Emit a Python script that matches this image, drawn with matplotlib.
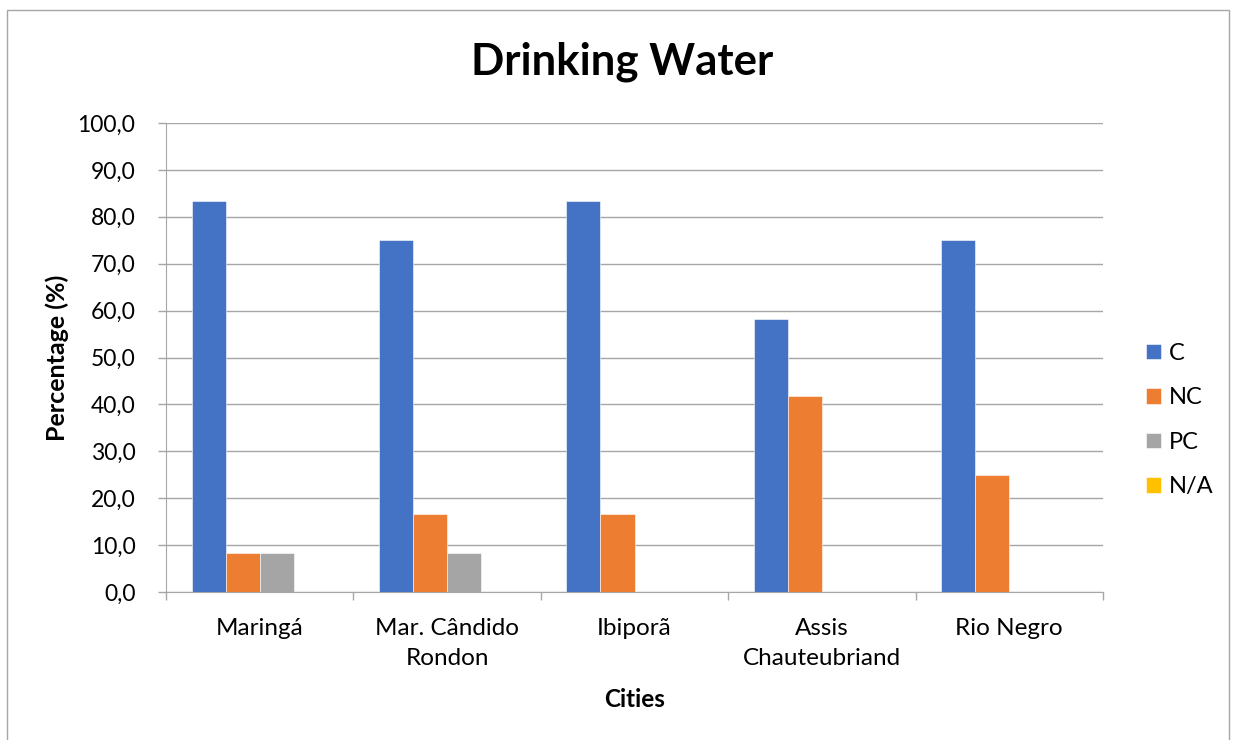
import matplotlib.pyplot as plt
import numpy as np
from matplotlib.patches import Rectangle

# Drinking water compliance per city (%)
cities = ["Maringá", "Mar. Cândido\nRondon", "Ibiporã", "Assis\nChauteubriand", "Rio Negro"]
c_vals = [83.3, 75.0, 83.3, 58.3, 75.0]
nc_vals = [8.3, 16.7, 16.7, 41.7, 25.0]
pc_vals = [8.3, 8.3, 0.0, 0.0, 0.0]
na_vals = [0.0, 0.0, 0.0, 0.0, 0.0]

series = [("C", c_vals, "#4472C4"),
          ("NC", nc_vals, "#ED7D31"),
          ("PC", pc_vals, "#A5A5A5"),
          ("N/A", na_vals, "#FFC000")]

plt.rcParams['font.family'] = ['Lato', 'DejaVu Sans']

fig = plt.figure(figsize=(12.34, 7.4), dpi=100)
ax = fig.add_axes([166 / 1234, 1 - 592 / 740, (1103 - 166) / 1234, (592 - 123) / 740])

x = np.arange(len(cities))
w = 0.1815
for i, (name, vals, col) in enumerate(series):
    ax.bar(x + (i - 1.5) * w, vals, width=w, color=col, label=name,
           edgecolor="white", linewidth=0.4, zorder=3)

grid_col = "#a6a6a6"
ax.set_xlim(-0.5, len(cities) - 0.5)
ax.set_ylim(0, 100)
ax.set_yticks(np.arange(0, 101, 10))
ax.set_yticklabels([f"{v:.1f}".replace(".", ",") for v in np.arange(0, 101, 10)], fontsize=16.5)
ax.yaxis.grid(True, color=grid_col, linewidth=1, zorder=0)
ax.tick_params(axis="y", length=6, color=grid_col, pad=16, width=1)

ax.set_xticks(np.arange(-0.5, len(cities), 1))
ax.set_xticklabels([])
ax.set_xticks(x, minor=True)
ax.set_xticklabels(cities, minor=True, fontsize=17.5, linespacing=1.5)
ax.tick_params(axis="x", which="major", length=6, color=grid_col, width=1)
ax.tick_params(axis="x", which="minor", length=0, pad=19)

for side in ["top", "right"]:
    ax.spines[side].set_visible(False)
ax.spines["left"].set_color(grid_col)
ax.spines["bottom"].set_color(grid_col)

ax.set_ylabel("Percentage (%)", fontsize=18, fontweight="bold", labelpad=6)
ax.set_xlabel("Cities", fontsize=17.5, fontweight="bold", labelpad=14)
fig.text(622 / 1234, 1 - 62 / 740, "Drinking Water", fontsize=31.5, fontweight="bold",
         ha="center", va="center")

leg = ax.legend(loc="center left", bbox_to_anchor=(1146 / 1234, 1 - 420 / 740),
                bbox_transform=fig.transFigure, frameon=False, borderpad=0, borderaxespad=0,
                fontsize=17, handlelength=0.62, handleheight=0.62, handletextpad=0.35,
                labelspacing=1.0)

# chart frame
fig.patches.append(Rectangle((7 / 1234, -0.01), 1222 / 1234, 1 - 10 / 740 + 0.01,
                             transform=fig.transFigure, fill=False,
                             edgecolor="#a6a6a6", linewidth=1))

fig.savefig("out.png", dpi=100)
